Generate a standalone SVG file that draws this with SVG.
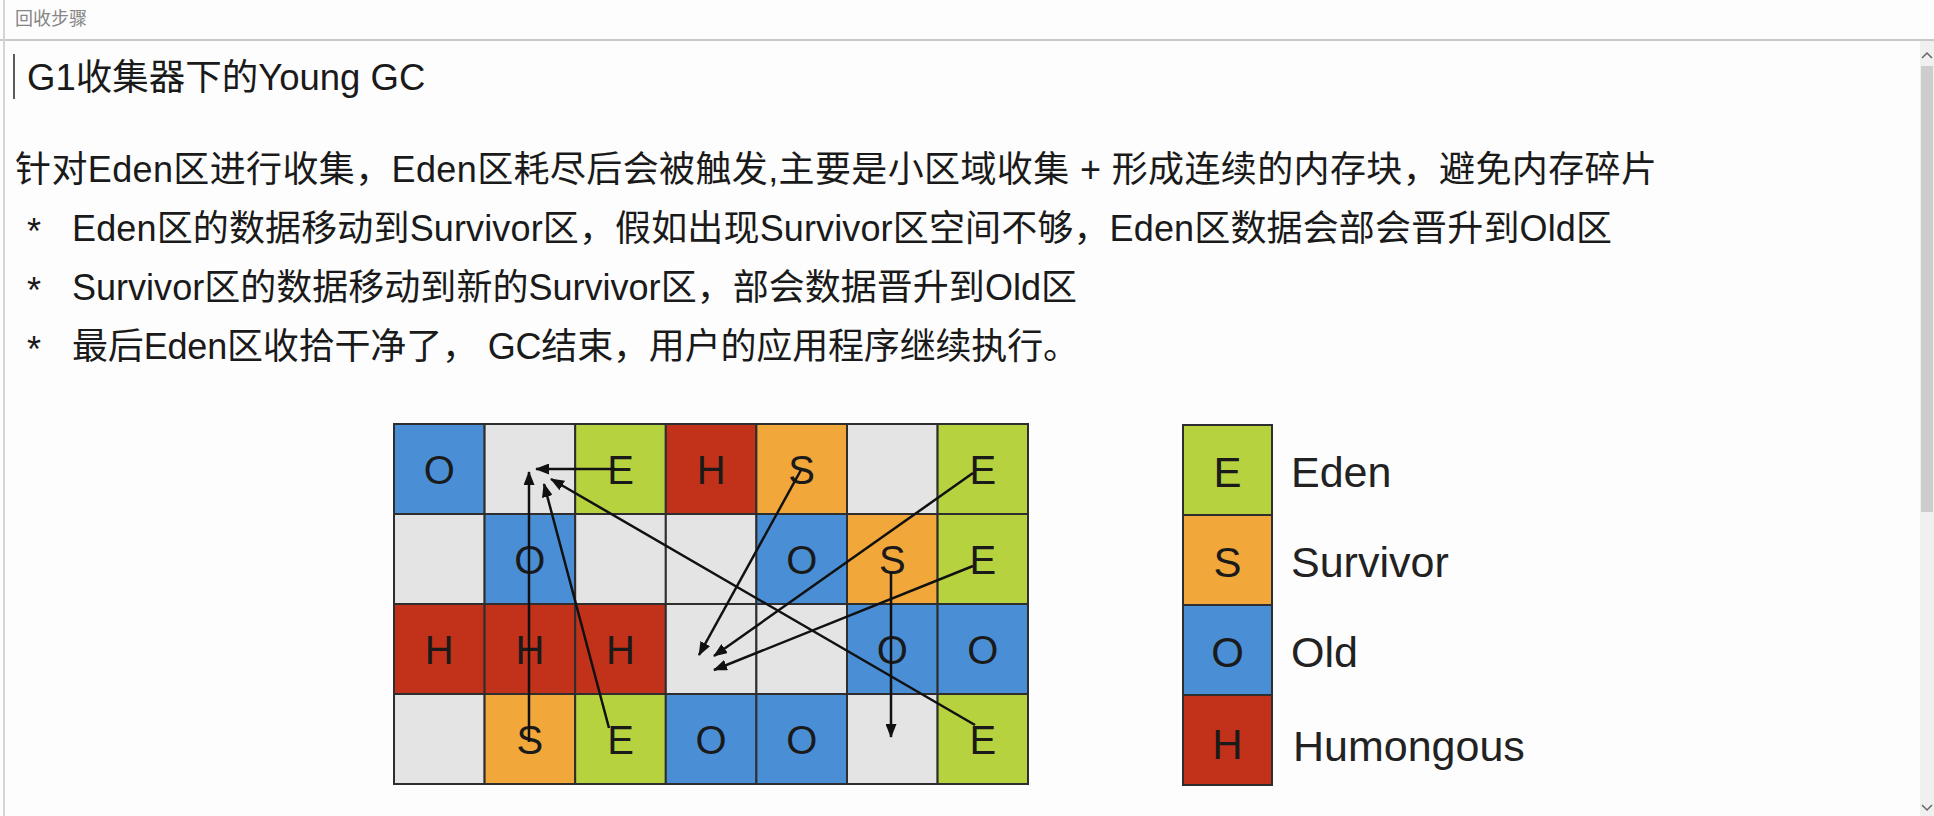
<svg xmlns="http://www.w3.org/2000/svg" width="1934" height="816" viewBox="0 0 1934 816">
<style>
.bg{fill:#fdfdfd}
.hdr{font-family:"Liberation Sans","Noto Sans CJK SC",sans-serif;font-size:18px;fill:#858585}
.txt{font-family:"Liberation Sans","Noto Sans CJK SC",sans-serif;font-size:36px;fill:#1a1a1a}
.ttl{font-family:"Liberation Sans","Noto Sans CJK SC",sans-serif;font-size:36.5px;fill:#1a1a1a}
.cell{stroke:#2e2e2e;stroke-width:2}
.E{fill:#b6d33f}.S{fill:#f1a73a}.O{fill:#4a8fd6}.H{fill:#c2321b}.N{fill:#e4e4e4}
.lt{font-family:"Liberation Sans",Arial,sans-serif;font-size:40px;fill:#1a1a1a;text-anchor:middle}
.lg{font-family:"Liberation Sans",Arial,sans-serif;font-size:43px;fill:#222}
.arr{stroke:#111;stroke-width:2.5;fill:none;marker-end:url(#ah)}
</style>
<defs>
<marker id="ah" viewBox="0 0 14 11" refX="13" refY="5.5" markerWidth="14" markerHeight="11" markerUnits="userSpaceOnUse" orient="auto">
<path d="M0,0 L14,5.5 L0,11 z" fill="#111"/>
</marker>
</defs>
<rect class="bg" x="0" y="0" width="1934" height="816"/>
<line x1="0" y1="40" x2="1934" y2="40" stroke="#c8c8c8" stroke-width="2"/>
<line x1="4" y1="0" x2="4" y2="816" stroke="#d4d4d4" stroke-width="2"/>
<text class="hdr" x="15" y="25">回收步骤</text>
<line x1="14" y1="54" x2="14" y2="99" stroke="#333" stroke-width="1.6"/>
<text class="ttl" x="27" y="90">G1收集器下的Young GC</text>
<g id="scrollbar">
<rect x="1920" y="41" width="14" height="775" fill="#f0f0f0"/>
<rect x="1921" y="66" width="12" height="446" fill="#cdcdcd"/>
<path d="M1922,58 L1927,53 L1932,58" stroke="#666" stroke-width="1.5" fill="none"/>
<path d="M1922,805 L1927,810 L1932,805" stroke="#666" stroke-width="1.5" fill="none"/>
</g>
<text class="txt" x="15" y="182" textLength="1642" lengthAdjust="spacing">针对Eden区进行收集，Eden区耗尽后会被触发,主要是小区域收集 + 形成连续的内存块，避免内存碎片</text>
<text class="txt" x="27" y="244">*</text>
<text class="txt" x="72" y="241" textLength="1540" lengthAdjust="spacing">Eden区的数据移动到Survivor区，假如出现Survivor区空间不够，Eden区数据会部会晋升到Old区</text>
<text class="txt" x="27" y="303">*</text>
<text class="txt" x="72" y="300" textLength="1005" lengthAdjust="spacing">Survivor区的数据移动到新的Survivor区，部会数据晋升到Old区</text>
<text class="txt" x="27" y="362">*</text>
<text class="txt" x="72" y="359" textLength="1007" lengthAdjust="spacing">最后Eden区收拾干净了， GC结束，用户的应用程序继续执行。</text>

<g id="grid">
<g id="c00"><rect class="cell O" x="394" y="424" width="90.6" height="90"/><text class="lt" x="439.3" y="484">O</text></g>
<g id="c01"><rect class="cell N" x="484.6" y="424" width="90.6" height="90"/></g>
<g id="c02"><rect class="cell E" x="575.2" y="424" width="90.6" height="90"/><text class="lt" x="620.5" y="484">E</text></g>
<g id="c03"><rect class="cell H" x="665.8" y="424" width="90.6" height="90"/><text class="lt" x="711.1" y="484">H</text></g>
<g id="c04"><rect class="cell S" x="756.4" y="424" width="90.6" height="90"/><text class="lt" x="801.7" y="484">S</text></g>
<g id="c05"><rect class="cell N" x="847" y="424" width="90.6" height="90"/></g>
<g id="c06"><rect class="cell E" x="937.6" y="424" width="90.4" height="90"/><text class="lt" x="982.9" y="484">E</text></g>

<g id="c10"><rect class="cell N" x="394" y="514" width="90.6" height="90"/></g>
<g id="c11"><rect class="cell O" x="484.6" y="514" width="90.6" height="90"/><text class="lt" x="529.9" y="574">O</text></g>
<g id="c12"><rect class="cell N" x="575.2" y="514" width="90.6" height="90"/></g>
<g id="c13"><rect class="cell N" x="665.8" y="514" width="90.6" height="90"/></g>
<g id="c14"><rect class="cell O" x="756.4" y="514" width="90.6" height="90"/><text class="lt" x="801.7" y="574">O</text></g>
<g id="c15"><rect class="cell S" x="847" y="514" width="90.6" height="90"/><text class="lt" x="892.3" y="574">S</text></g>
<g id="c16"><rect class="cell E" x="937.6" y="514" width="90.4" height="90"/><text class="lt" x="982.9" y="574">E</text></g>

<g id="c20"><rect class="cell H" x="394" y="604" width="90.6" height="90"/><text class="lt" x="439.3" y="664">H</text></g>
<g id="c21"><rect class="cell H" x="484.6" y="604" width="90.6" height="90"/><text class="lt" x="529.9" y="664">H</text></g>
<g id="c22"><rect class="cell H" x="575.2" y="604" width="90.6" height="90"/><text class="lt" x="620.5" y="664">H</text></g>
<g id="c23"><rect class="cell N" x="665.8" y="604" width="90.6" height="90"/></g>
<g id="c24"><rect class="cell N" x="756.4" y="604" width="90.6" height="90"/></g>
<g id="c25"><rect class="cell O" x="847" y="604" width="90.6" height="90"/><text class="lt" x="892.3" y="664">O</text></g>
<g id="c26"><rect class="cell O" x="937.6" y="604" width="90.4" height="90"/><text class="lt" x="982.9" y="664">O</text></g>

<g id="c30"><rect class="cell N" x="394" y="694" width="90.6" height="90"/></g>
<g id="c31"><rect class="cell S" x="484.6" y="694" width="90.6" height="90"/><text class="lt" x="529.9" y="754">S</text></g>
<g id="c32"><rect class="cell E" x="575.2" y="694" width="90.6" height="90"/><text class="lt" x="620.5" y="754">E</text></g>
<g id="c33"><rect class="cell O" x="665.8" y="694" width="90.6" height="90"/><text class="lt" x="711.1" y="754">O</text></g>
<g id="c34"><rect class="cell O" x="756.4" y="694" width="90.6" height="90"/><text class="lt" x="801.7" y="754">O</text></g>
<g id="c35"><rect class="cell N" x="847" y="694" width="90.6" height="90"/></g>
<g id="c36"><rect class="cell E" x="937.6" y="694" width="90.4" height="90"/><text class="lt" x="982.9" y="754">E</text></g>
</g>

<g id="connectors">
<line class="arr" x1="615" y1="469" x2="536" y2="469"/>
<line class="arr" x1="529" y1="742" x2="529" y2="472"/>
<line class="arr" x1="609" y1="728" x2="544" y2="484"/>
<line class="arr" x1="975" y1="725" x2="551" y2="479"/>
<line class="arr" x1="801" y1="470" x2="699" y2="655"/>
<line class="arr" x1="973" y1="473" x2="714" y2="656"/>
<line class="arr" x1="973" y1="566" x2="714" y2="670"/>
<line class="arr" x1="891" y1="572" x2="891" y2="737"/>
</g>

<g id="legend">
<g id="lgE"><rect class="cell E" x="1183" y="425" width="89" height="90"/><text class="lt" x="1227.5" y="487" style="font-size:42px">E</text><text class="lg" x="1291" y="487">Eden</text></g>
<g id="lgS"><rect class="cell S" x="1183" y="515" width="89" height="90"/><text class="lt" x="1227.5" y="577" style="font-size:42px">S</text><text class="lg" x="1291" y="577">Survivor</text></g>
<g id="lgO"><rect class="cell O" x="1183" y="605" width="89" height="90"/><text class="lt" x="1227.5" y="667" style="font-size:42px">O</text><text class="lg" x="1291" y="667">Old</text></g>
<g id="lgH"><rect class="cell H" x="1183" y="695" width="89" height="90"/><text class="lt" x="1227.5" y="759" style="font-size:42px">H</text><text class="lg" x="1293" y="761">Humongous</text></g>
</g>
</svg>
